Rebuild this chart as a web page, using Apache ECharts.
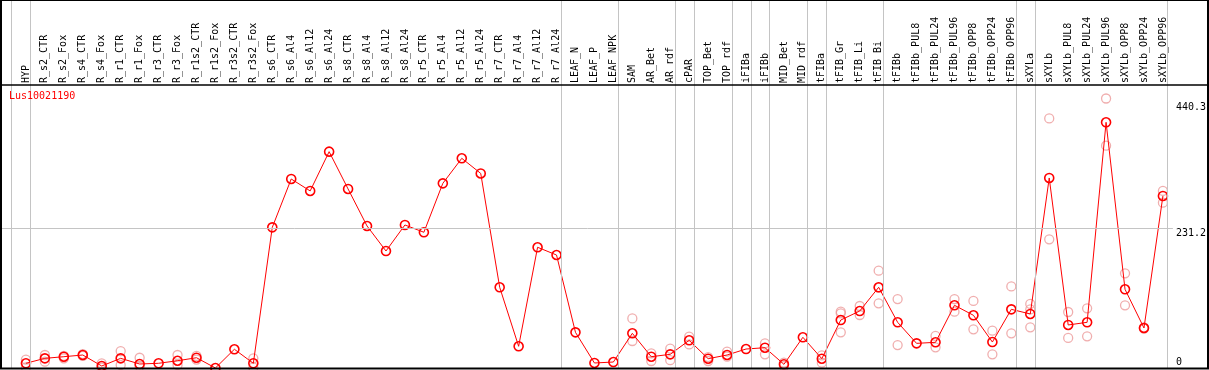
<!DOCTYPE html>
<html>
<head>
<meta charset="utf-8">
<script src="https://cdn.jsdelivr.net/npm/echarts@6/dist/echarts.min.js"></script>
<style>
html,body{margin:0;padding:0;background:#fff;}
#chart{width:1209px;height:370px;}
</style>
</head>
<body>
<div id="chart"></div>
<script>
const title = 'Lus10021190';
const categories = ['HYP','R_s2_CTR','R_s2_Fox','R_s4_CTR','R_s4_Fox','R_r1_CTR','R_r1_Fox','R_r3_CTR','R_r3_Fox','R_r1s2_CTR','R_r1s2_Fox','R_r3s2_CTR','R_r3s2_Fox',
'R_s6_CTR','R_s6_Al4','R_s6_Al12','R_s6_Al24','R_s8_CTR','R_s8_Al4','R_s8_Al12','R_s8_Al24','R_r5_CTR','R_r5_Al4','R_r5_Al12','R_r5_Al24','R_r7_CTR','R_r7_Al4','R_r7_Al12','R_r7_Al24',
'LEAF_N','LEAF_P','LEAF_NPK','SAM','AR_Bet','AR_rdf','cPAR','TOP_Bet','TOP_rdf','iFIBa','iFIBb','MID_Bet','MID_rdf','tFIBa','tFIB_Gr','tFIB_Li','tFIB_Bi',
'tFIBb','tFIBb_PUL8','tFIBb_PUL24','tFIBb_PUL96','tFIBb_OPP8','tFIBb_OPP24','tFIBb_OPP96','sXYLa','sXYLb','sXYLb_PUL8','sXYLb_PUL24','sXYLb_PUL96','sXYLb_OPP8','sXYLb_OPP24','sXYLb_OPP96'];

const meanValues = [7.8, 16, 18.7, 21.5, 3.3, 16, 6.6, 7.8, 12, 17, 0, 31, 7.8,
232.8, 312.8, 293, 358, 296.3, 235, 193.6, 236.7, 224.6, 305.6, 347, 322, 133.6, 35.9, 199.8, 187, 59, 8.3, 9.9,
57.4, 18.7, 22.6, 45.8, 15.4, 21.5, 31.4, 33.6, 6.1, 50.8, 15.4, 79.4, 94.3, 133.6, 75.6, 40.8, 42.5, 103.8, 87.2, 43, 97.1, 89.4, 314.5, 71.2, 75.6, 406.6, 130.2, 66.2, 284.7];

const rep1 = [14, 21.5, 20, 23, 7.8, 28, 17, null, 21.5, 20, null, null, 16,
null, null, null, null, null, null, null, null, null, null, null, null, null, null, null, null, null, null, null,
82, 24.3, 32, 51.8, 18, 27, null, 40.8, 8.8, null, 21, 93.2, 102.6, 161, 114, null, 53, 114, 111, 61.8, 135, 106, 413, 92.7, 98.8, 446, 156.7, 67, 293];

const rep2 = [1, 10.4, 16, 20, 0.5, 5, 3, null, 5, 14, null, null, 1,
null, null, null, null, null, null, null, null, null, null, null, null, null, null, null, null, null, null, null,
44.7, 11.6, 13, 39, 11.6, 18.7, null, 22.6, 3, null, 8.8, 90.5, 87.7, 107, 38, null, 34.2, 93.2, 64, 22.6, 57.4, 97, 213, 49.7, 52.5, 368, 103.8, 65, 273.6];

const rep3 = [null, null, null, null, null, null, null, null, null, null, null, null, null,
null, null, null, null, null, null, null, null, null, null, null, null, null, null, null, null, null, null, null,
null, null, null, null, null, null, null, null, null, null, null, 59, null, 133, null, null, null, null, null, null, null, 67.3, null, null, null, null, null, null, null];

const yTickValues = [0, 231.2, 440.3];
const groupEnds = [-1, 0, 28, 31, 34, 35, 37, 38, 39, 41, 42, 45, 52, 53, 60];

const FONT = 'DejaVu Sans Mono';
const meanData = meanValues.map((v, i) => [i, v]);
const repData = [];
[rep1, rep2, rep3].forEach(arr => arr.forEach((v, i) => { if (v !== null) repData.push([i, v]); }));

const chart = echarts.init(document.getElementById('chart'), null, {renderer: 'canvas'});
chart.setOption({
  animation: false,
  backgroundColor: '#fff',
  title: {
    text: title, left: 9, top: 91, padding: 0,
    textStyle: {color: '#ff0000', fontSize: 10, fontWeight: 'normal', fontFamily: FONT}
  },
  grid: {left: 2, right: 33, top: 0, bottom: 2, containLabel: false},
  xAxis: {
    type: 'value', position: 'top', offset: -85,
    min: -24 / 19, max: 1150 / 19,
    axisLine: {show: false}, axisTick: {show: false}, splitLine: {show: false},
    axisLabel: {
      customValues: categories.map((c, i) => i),
      formatter: v => categories[Math.round(v)] || '',
      rotate: 90, margin: 2, fontSize: 10, fontFamily: FONT, color: '#000',
      hideOverlap: false, showMinLabel: true, showMaxLabel: true
    }
  },
  yAxis: {
    type: 'value', position: 'right', min: 0, max: 609,
    axisLine: {show: false}, axisTick: {show: false}, splitLine: {show: false},
    axisLabel: {
      customValues: yTickValues, margin: 3, fontSize: 10, fontFamily: FONT, color: '#000',
      verticalAlign: 'middle', showMinLabel: true, showMaxLabel: true,
      formatter: v => v === 0 ? '{lo|0}' : '{hi|' + v + '}',
      rich: {
        lo: {fontSize: 10, fontFamily: FONT, color: '#000', padding: [0, 0, 11, 0]},
        hi: {fontSize: 10, fontFamily: FONT, color: '#000', padding: [10, 0, 0, 0]}
      }
    }
  },
  series: [
    {
      type: 'scatter', data: repData, z: 2, silent: true,
      symbol: 'circle', symbolSize: 9,
      itemStyle: {color: 'transparent', borderColor: '#ec9a9a', borderWidth: 1.3},
      markLine: {
        silent: true, symbol: ['none', 'none'], label: {show: false},
        lineStyle: {color: '#c4c4c4', width: 1, type: 'solid'},
        data: groupEnds.map(g => ({xAxis: g + 0.25})).concat([{yAxis: yTickValues[1]}])
      }
    },
    {
      type: 'line', data: meanData, z: 3, silent: true, showAllSymbol: true,
      symbol: 'circle', symbolSize: 9,
      lineStyle: {color: '#ff0000', width: 1},
      itemStyle: {color: 'transparent', borderColor: '#ff0000', borderWidth: 1.6}
    }
  ],
  graphic: [
    {type: 'line', z: 10, silent: true, shape: {x1: 0, y1: 85, x2: 1209, y2: 85}, style: {stroke: '#000', lineWidth: 1.5}},
    {type: 'rect', z: 10, silent: true, shape: {x: 1, y: 0, width: 1207, height: 368.5}, style: {fill: 'none', stroke: '#000', lineWidth: 2}}
  ]
});
</script>
</body>
</html>
